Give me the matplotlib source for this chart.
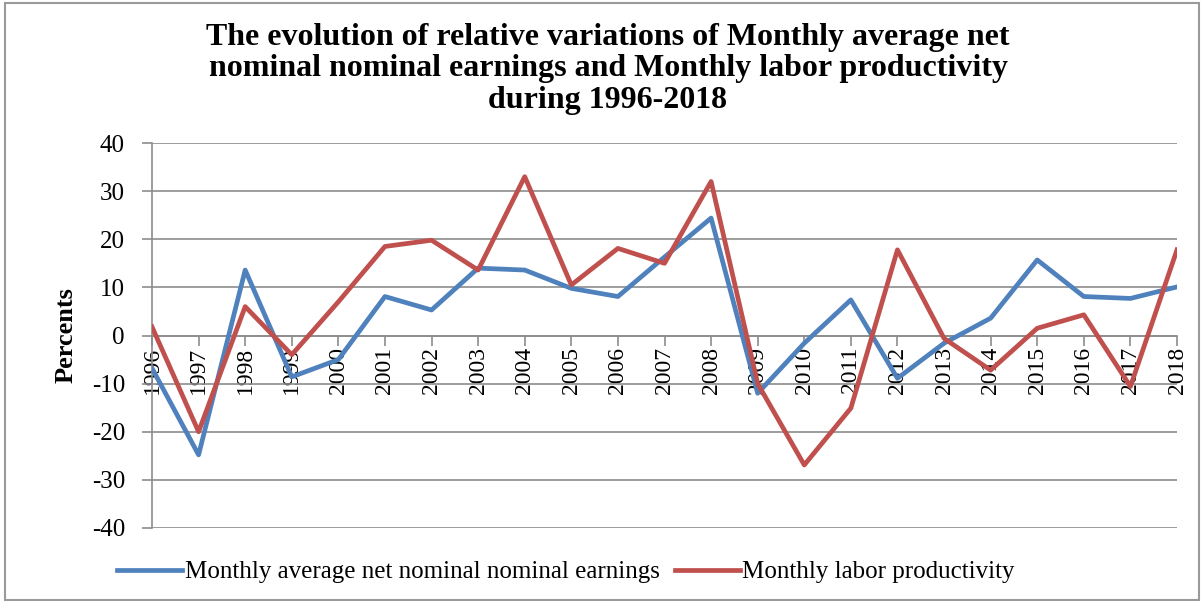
import matplotlib.pyplot as plt
from matplotlib.patches import Rectangle

years = [str(y) for y in range(1996, 2019)]
earnings = [-6.8, -24.8, 13.6, -8.6, -5.0, 8.1, 5.3, 14.0, 13.6, 9.8, 8.1, 16.3,
            24.4, -12.0, -1.6, 7.4, -8.9, -1.6, 3.6, 15.7, 8.1, 7.7, 10.1]
productivity = [1.8, -20.0, 6.0, -4.0, 7.0, 18.5, 19.8, 13.6, 33.0, 10.5, 18.1, 15.0,
                32.0, -10.0, -26.9, -15.1, 17.8, -0.6, -7.2, 1.5, 4.3, -10.6, 17.8]

plt.rcParams['font.family'] = ['Liberation Serif', 'DejaVu Serif']
plt.rcParams['axes.unicode_minus'] = False

fig = plt.figure(figsize=(12.04, 6.01), dpi=100)
fig.patches.append(Rectangle((0.004, 0.002), 0.992, 0.993, transform=fig.transFigure,
                             fill=False, edgecolor='#9a9a9a', linewidth=1.5))

ax = fig.add_axes([152 / 1204, 73 / 601, 1025 / 1204, 385 / 601])
x = list(range(len(years)))
l1, = ax.plot(x, earnings, color='#4F81BD', linewidth=3.4, zorder=3)
l2, = ax.plot(x, productivity, color='#C0504D', linewidth=3.4, zorder=3)

ax.set_xlim(0, len(years) - 1)
ax.set_ylim(-40, 40)
ax.set_yticks(range(-40, 41, 10))
ax.yaxis.grid(True, color='#8c8c8c', linewidth=1.2)
ax.set_axisbelow(True)

for s in ['top', 'right']:
    ax.spines[s].set_visible(False)
ax.spines['left'].set_color('#8c8c8c')
ax.spines['left'].set_linewidth(1.2)
ax.spines['bottom'].set_position(('data', 0))
ax.spines['bottom'].set_color('#8c8c8c')
ax.spines['bottom'].set_linewidth(1.2)

ax.set_xticks(x)
ax.set_xticklabels(years, rotation=90, fontsize=17)
ax.tick_params(axis='x', direction='out', length=7, width=1.2, color='#8c8c8c', pad=1)
ax.tick_params(axis='y', direction='out', length=7.5, width=1.2, color='#8c8c8c',
               labelsize=18, pad=12)
ax.set_ylabel('Percents', fontsize=19, fontweight='bold', labelpad=10)

fig.suptitle('The evolution of relative variations of Monthly average net\n'
             'nominal nominal earnings and Monthly labor productivity\n'
             'during 1996-2018', x=0.505, y=0.962, va='top', fontsize=23,
             fontweight='bold', linespacing=1.12)

fig.legend([l1, l2], ['Monthly average net nominal nominal earnings',
                      'Monthly labor productivity'],
           loc='center', bbox_to_anchor=(0.47, 0.048), ncol=2, frameon=False,
           fontsize=18, handlelength=2.6, handletextpad=0.1, columnspacing=0.6)

fig.savefig('out.png', dpi=100)
